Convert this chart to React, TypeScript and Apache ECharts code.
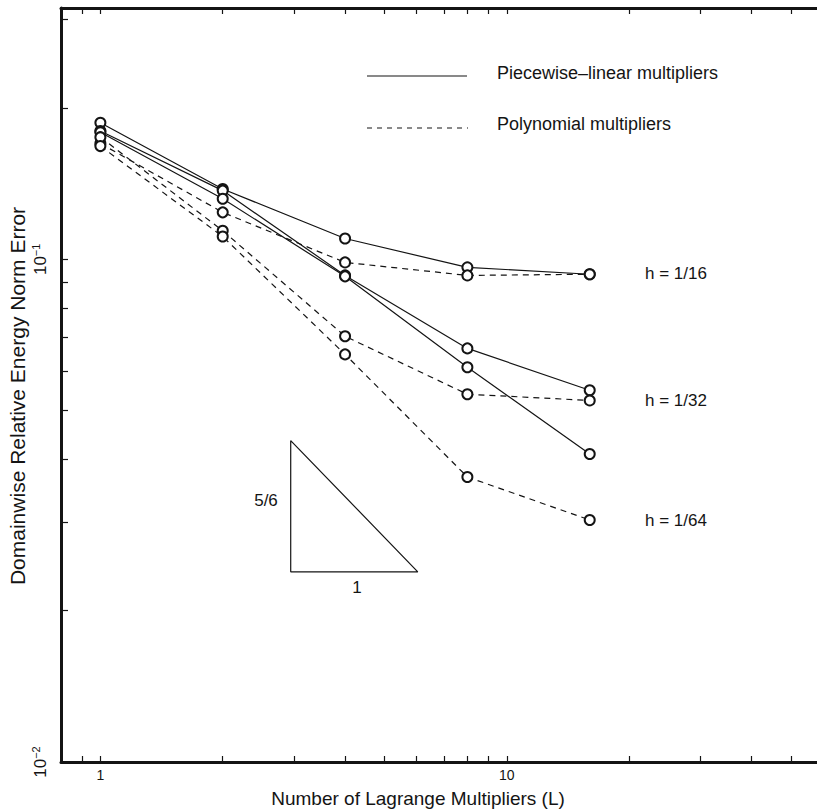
import React, { useEffect, useRef } from 'react';
import * as echarts from 'echarts';

// Number of Lagrange multipliers (x)
const multipliers = [1, 2, 4, 8, 16];

// Domainwise relative energy norm error (y)
const pwLinear16 = [0.187, 0.138, 0.11, 0.0964, 0.0934];
const pwLinear32 = [0.18, 0.137, 0.0929, 0.0665, 0.0549];
const pwLinear64 = [0.179, 0.132, 0.0925, 0.061, 0.041];
const poly16 = [0.17, 0.124, 0.0986, 0.0929, 0.0934];
const poly32 = [0.175, 0.114, 0.0703, 0.0539, 0.0524];
const poly64 = [0.168, 0.111, 0.0647, 0.0369, 0.0303];

// Axis ticks and labels
const xTickValues = [0.9, 1, 2, 3, 4, 5, 6, 7, 8, 9, 10, 20, 30, 40, 50];
const xLabelValues = [1, 10];
const yTickValues = [0.02, 0.03, 0.04, 0.05, 0.06, 0.07, 0.08, 0.09, 0.1, 0.2, 0.3];
const yLabelValues = [0.01, 0.1];

// Slope triangle (5/6) in data coordinates
const triangleX = [2.94, 2.94, 6.04, 2.94];
const triangleY = [0.0436, 0.0239, 0.0239, 0.0436];

const legendSolid = 'Piecewise–linear multipliers';
const legendDashed = 'Polynomial multipliers';
const meshLabels = ['h = 1/16', 'h = 1/32', 'h = 1/64'];

const FONT = '"Liberation Sans", Arial, sans-serif';
const INK = '#141414';

export default function App() {
  const ref = useRef<HTMLDivElement>(null);

  useEffect(() => {
    if (!ref.current) return;
    const chart = echarts.init(ref.current, undefined, { renderer: 'svg' });

    const mk = (name: string, vals: number[], dashed: boolean) => ({
      name,
      type: 'line',
      xAxisIndex: 0,
      yAxisIndex: 0,
      data: multipliers.map((x, i) => [x, vals[i]]),
      symbol: 'emptyCircle',
      symbolSize: 10,
      lineStyle: { color: INK, width: 1.2, type: dashed ? [6, 5] : 'solid' },
      itemStyle: { color: INK, borderColor: INK, borderWidth: 1.2 },
      z: 3,
    });

    const axisCommon = {
      type: 'log',
      logBase: 10,
      splitLine: { show: false },
      axisLine: { show: true, onZero: false, lineStyle: { color: INK, width: 3 } },
    };

    const supLabel = (v: number) =>
      Math.abs(v - 0.1) < 1e-9 ? '{n|10}{s|−1}' : '{n|10}{s|−2}';

    const option: any = {
      animation: false,
      backgroundColor: '#fff',
      textStyle: { fontFamily: FONT },
      grid: { left: 61, top: 8, right: -6, bottom: 47, containLabel: false, outerBoundsMode: 'none' },
      xAxis: [
        {
          ...axisCommon,
          position: 'bottom',
          min: 0.8,
          max: 60,
          axisTick: { show: true, inside: true, length: 6, customValues: xTickValues, lineStyle: { color: INK, width: 1.2 } },
          axisLabel: {
            show: true,
            customValues: xLabelValues,
            margin: 6,
            color: INK,
            fontSize: 14,
            lineHeight: 14,
            fontFamily: FONT,
            formatter: (v: number) => String(Math.round(v)),
          },
        },
        {
          ...axisCommon,
          position: 'top',
          min: 0.8,
          max: 60,
          axisTick: { show: true, inside: true, length: 6, customValues: xTickValues, lineStyle: { color: INK, width: 1.2 } },
          axisLabel: { show: false },
        },
      ],
      yAxis: [
        {
          ...axisCommon,
          position: 'left',
          min: 0.01,
          max: 0.31623,
          axisTick: { show: true, inside: true, length: 7, customValues: yTickValues, lineStyle: { color: INK, width: 1.2 } },
          axisLabel: {
            show: true,
            customValues: yLabelValues,
            rotate: 90,
            margin: 11,
            color: INK,
            fontFamily: FONT,
            formatter: supLabel,
            rich: {
              n: { fontSize: 17, fontFamily: FONT, color: INK },
              s: { fontSize: 11, fontFamily: FONT, color: INK, verticalAlign: 'top', padding: [0, 0, 9, 0] },
            },
          },
        },
      ],
      series: [
        mk('pw16', pwLinear16, false),
        mk('pw32', pwLinear32, false),
        mk('pw64', pwLinear64, false),
        mk('poly16', poly16, true),
        mk('poly32', poly32, true),
        mk('poly64', poly64, true),
        {
          name: 'slope',
          type: 'line',
          data: triangleX.map((x, i) => [x, triangleY[i]]),
          symbol: 'none',
          lineStyle: { color: INK, width: 1.2 },
          z: 2,
        },
      ],
      graphic: [
        { type: 'line', shape: { x1: 367, y1: 76, x2: 467, y2: 76 }, style: { stroke: INK, lineWidth: 1.2 } },
        { type: 'line', shape: { x1: 367, y1: 128, x2: 468, y2: 128 }, style: { stroke: INK, lineWidth: 1.2, lineDash: [5, 5] } },
        { type: 'text', left: 497, top: 64, style: { text: legendSolid, font: `18px ${FONT}`, fill: INK } },
        { type: 'text', left: 497, top: 115, style: { text: legendDashed, font: `18px ${FONT}`, fill: INK } },
        { type: 'text', x: 645, y: 273, style: { text: meshLabels[0], font: `17px ${FONT}`, fill: INK, verticalAlign: 'middle' } },
        { type: 'text', x: 645, y: 400, style: { text: meshLabels[1], font: `17px ${FONT}`, fill: INK, verticalAlign: 'middle' } },
        { type: 'text', x: 645, y: 520, style: { text: meshLabels[2], font: `17px ${FONT}`, fill: INK, verticalAlign: 'middle' } },
        { type: 'text', x: 266, y: 500, style: { text: '5/6', font: `17px ${FONT}`, fill: INK, align: 'center', verticalAlign: 'middle' } },
        { type: 'text', x: 357, y: 587, style: { text: '1', font: `17px ${FONT}`, fill: INK, align: 'center', verticalAlign: 'middle' } },
        {
          type: 'text',
          x: 418,
          y: 798,
          style: { text: 'Number of Lagrange Multipliers (L)', font: `19px ${FONT}`, fill: INK, align: 'center', verticalAlign: 'middle' },
        },
        {
          type: 'text',
          x: 17,
          y: 396,
          rotation: Math.PI / 2,
          style: { text: 'Domainwise Relative Energy Norm Error', font: `21px ${FONT}`, fill: INK, align: 'center', verticalAlign: 'middle' },
        },
      ],
    };

    chart.setOption(option);
    return () => chart.dispose();
  }, []);

  return (
    <div
      ref={ref}
      style={{ position: 'absolute', left: 0, top: 0, width: 817, height: 809, background: '#fff' }}
    />
  );
}
